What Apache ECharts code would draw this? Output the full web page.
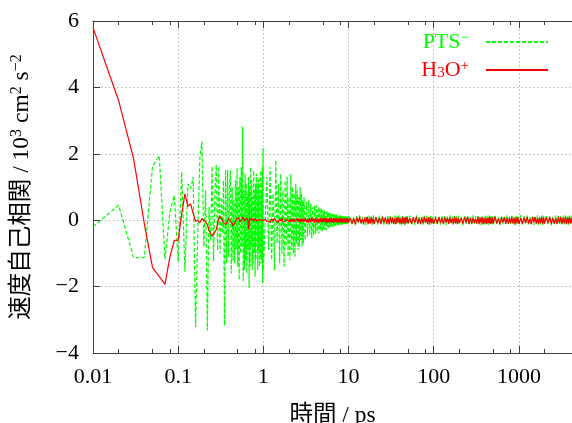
<!DOCTYPE html>
<html><head><meta charset="utf-8">
<script src="https://cdn.jsdelivr.net/npm/echarts@6/dist/echarts.min.js"></script>
<style>html,body{margin:0;padding:0;background:#fff}#c{width:572px;height:423px}</style>
</head><body><div id="c"></div>
<script>
// sampling grid of the time axis (ps): [start, step, count]
const timeSegments = [
  [0.01, 0.01, 100],
  [1.05, 0.05, 40],
  [3.1, 0.1, 70],
  [10.5, 0.5, 20],
  [21, 1, 30],
  [52.5, 2.5, 20],
  [105, 5, 20],
  [210, 10, 30],
  [525, 25, 20],
  [1050, 50, 20],
  [2100, 100, 22]
];
const majorTicks = [0.01, 0.1, 1, 10, 100, 1000];
const minorTicks = [0.02,0.05,0.08,0.2,0.5,0.8,2,5,8,20,50,80,200,500,800,2000];
const yTicks = [-4, -2, 0, 2, 4, 6];

// PTS- velocity autocorrelation (10^3 cm^2 s^-2)
const ptsEarly = [ // 0.01 .. 1.00 ps
 -0.2,0.45,-1.13,-1.13,1.62,1.94,-1.18,0.25,0.75,-1.25,
 1.45,-1.55,1.1,0.95,1.3,-3.22,-0.3,1.9,2.37,-0.8,
 0.9,-3.32,0.4,-0.6,1.62,-1.23,0.8,1.67,-0.9,1.62,
 -1.0,0.7,-0.4,1.2,-3.18,1.52,-1.3,1.52,-1.1,0.9,
 1.5,-1.6,1.0,-1.23,0.6,-1.3,1.2,-0.9,1.57,-1.4,
 1.0,-1.8,1.3,-1.0,1.6,-0.8,2.82,-1.83,0.9,-1.5,
 1.4,-1.2,1.1,-1.6,0.8,-0.9,1.3,-2.05,1.0,-1.4,
 1.6,-0.8,1.2,-1.5,0.7,-1.3,1.5,-1.0,0.9,-1.7,
 1.1,-1.2,1.4,-0.7,1.0,-1.5,1.2,-0.9,1.3,-1.4,
 0.8,-1.1,1.5,-1.3,0.9,-1.2,1.6,-1.9,2.17,-1.5
];
const ptsMid = [ // 1.05 .. 10.0 ps
 -1.5,1.3,-0.9,1.6,-1.2,0.8,-1.5,1.8,-0.7,1.1,
 -1.3,1.4,-1.0,0.9,-1.4,1.2,-0.8,1.3,-1.1,0.7,
 -1.2,1.4,-0.9,1.0,-1.0,0.8,-1.1,1.1,-0.7,0.9,
 -0.9,0.7,-0.8,1.0,-0.6,0.8,-0.8,0.6,-0.7,0.7,
 -0.6,0.55,-0.5,0.6,-0.45,0.5,-0.55,0.4,-0.45,0.45,
 -0.4,0.45,-0.35,0.4,-0.4,0.35,-0.3,0.38,-0.35,0.3,
 -0.3,0.3,-0.28,0.25,-0.3,0.27,-0.22,0.25,-0.25,0.22,
 -0.2,0.22,-0.2,0.18,-0.2,0.2,-0.17,0.18,-0.18,0.16,
 -0.16,0.17,-0.15,0.15,-0.16,0.14,-0.14,0.15,-0.13,0.14,
 -0.13,0.13,-0.14,0.12,-0.12,0.13,-0.12,0.12,-0.13,0.11,
 -0.12,0.12,-0.11,0.12,-0.12,0.11,-0.12,0.12,-0.11,0.12
];
const ptsLate = [ // 10.5 .. 4200 ps
 0.13,-0.12,0.1,-0.15,0.12,-0.1,0.15,-0.13,0.09,-0.14,
 0.12,-0.15,0.13,-0.09,0.14,-0.12,0.1,-0.14,0.15,-0.11,
 0.11,-0.13,0.14,-0.1,0.12,-0.15,0.09,-0.12,0.13,-0.14,
 0.15,-0.11,0.1,-0.13,0.14,-0.12,0.12,-0.1,0.15,-0.13,
 0.09,-0.14,0.13,-0.12,0.11,-0.15,0.14,-0.1,0.12,-0.13,
 0.14,-0.12,0.1,-0.14,0.15,-0.11,0.12,-0.13,0.1,-0.15,
 0.13,-0.1,0.14,-0.12,0.11,-0.14,0.15,-0.12,0.1,-0.13,
 0.12,-0.14,0.09,-0.13,0.14,-0.11,0.13,-0.15,0.12,-0.1,
 0.15,-0.12,0.11,-0.14,0.13,-0.1,0.12,-0.13,0.14,-0.12,
 0.1,-0.15,0.13,-0.11,0.14,-0.12,0.09,-0.14,0.15,-0.13,
 0.12,-0.1,0.14,-0.13,0.11,-0.15,0.13,-0.12,0.1,-0.14,
 0.14,-0.11,0.12,-0.14,0.15,-0.1,0.13,-0.12,0.11,-0.15,
 0.13,-0.12,0.1,-0.14,0.14,-0.13,0.12,-0.11,0.15,-0.12,
 0.11,-0.14,0.13,-0.1,0.12,-0.15,0.14,-0.12,0.1,-0.13,
 0.15,-0.13,0.12,-0.11,0.14,-0.14,0.1,-0.12,0.13,-0.15,
 0.12,-0.1,0.15,-0.13,0.11,-0.12,0.14,-0.14,0.13,-0.11,
 0.14,-0.12,0.12,-0.15,0.1,-0.13,0.15,-0.11,0.13,-0.14,
 0.11,-0.13,0.14,-0.12,0.15,-0.1,0.12,-0.14,0.13,-0.12,
 0.14,-0.13
];

// H3O+ velocity autocorrelation (10^3 cm^2 s^-2)
const h3oEarly = [ // 0.01 .. 1.00 ps
 5.8,3.6,1.85,-0.1,-1.43,-1.7,-1.93,-1.1,-0.61,-0.6,
 0.2,0.79,0.42,0.49,0.2,-0.03,-0.01,-0.08,0.05,0.07,
 -0.05,-0.13,-0.3,-0.4,-0.48,-0.45,-0.35,-0.28,-0.1,0.05,
 0.12,0.1,0.0,-0.08,-0.1,-0.13,-0.1,-0.02,0.05,0.02,
 -0.03,-0.05,-0.1,-0.18,-0.23,-0.15,-0.05,0.03,0.07,0.05,
 0.07,0.02,-0.05,-0.08,-0.05,0.02,0.05,0.1,0.05,-0.03,
 -0.08,-0.05,0.02,0.06,0.03,-0.02,-0.28,-0.1,0.07,0.04,
 0.0,-0.05,-0.02,0.03,0.05,0.02,-0.03,-0.06,-0.02,0.03,
 0.05,0.02,-0.02,-0.04,-0.01,0.02,0.04,0.01,-0.03,-0.02,
 0.02,0.04,0.01,-0.02,-0.03,0.0,0.03,0.02,-0.01,-0.02
];
const h3oMid = [ // 1.05 .. 10.0 ps
 0.03,-0.04,0.02,-0.05,0.04,-0.03,0.05,-0.02,0.03,-0.06,
 0.04,-0.03,0.06,-0.04,0.02,-0.05,0.03,-0.02,0.05,-0.04,
 0.03,-0.06,0.04,-0.03,0.05,-0.04,0.02,-0.05,0.04,-0.03,
 0.06,-0.04,0.03,-0.05,0.04,-0.06,0.05,-0.03,0.04,-0.05,
 0.05,-0.06,0.04,-0.07,0.06,-0.05,0.07,-0.04,0.05,-0.07,
 0.06,-0.05,0.04,-0.08,0.05,-0.06,0.07,-0.05,0.04,-0.06,
 0.07,-0.04,0.05,-0.07,0.06,-0.08,0.04,-0.05,0.06,-0.07,
 0.05,-0.06,0.07,-0.05,0.04,-0.08,0.06,-0.05,0.05,-0.07,
 0.06,-0.04,0.05,-0.08,0.07,-0.06,0.04,-0.07,0.05,-0.06,
 0.07,-0.05,0.06,-0.08,0.04,-0.06,0.05,-0.07,0.06,-0.05,
 0.05,-0.08,0.07,-0.06,0.04,-0.07,0.06,-0.05,0.05,-0.08
];
const h3oLate = [ // 10.5 .. 4200 ps
 0.07,-0.1,0.05,-0.12,0.08,-0.06,0.1,-0.09,0.04,-0.11,
 0.08,-0.07,0.09,-0.12,0.06,-0.1,0.1,-0.08,0.05,-0.11,
 0.09,-0.09,0.06,-0.12,0.1,-0.07,0.08,-0.1,0.05,-0.11,
 0.1,-0.08,0.07,-0.11,0.06,-0.12,0.09,-0.07,0.08,-0.1,
 0.05,-0.11,0.1,-0.09,0.07,-0.12,0.08,-0.06,0.09,-0.1,
 0.06,-0.12,0.09,-0.08,0.1,-0.1,0.05,-0.11,0.08,-0.09,
 0.1,-0.07,0.06,-0.12,0.09,-0.1,0.07,-0.08,0.05,-0.11,
 0.08,-0.1,0.1,-0.09,0.06,-0.12,0.09,-0.07,0.07,-0.11,
 0.09,-0.08,0.05,-0.11,0.1,-0.1,0.08,-0.12,0.06,-0.09,
 0.07,-0.11,0.09,-0.07,0.1,-0.12,0.06,-0.1,0.08,-0.08,
 0.05,-0.1,0.1,-0.11,0.07,-0.09,0.09,-0.12,0.06,-0.1,
 0.08,-0.12,0.06,-0.08,0.1,-0.11,0.07,-0.1,0.09,-0.09,
 0.1,-0.1,0.05,-0.12,0.08,-0.07,0.09,-0.11,0.06,-0.1,
 0.07,-0.09,0.1,-0.1,0.06,-0.12,0.08,-0.08,0.09,-0.11,
 0.06,-0.11,0.08,-0.09,0.1,-0.1,0.05,-0.12,0.09,-0.07,
 0.09,-0.1,0.07,-0.12,0.06,-0.08,0.1,-0.11,0.08,-0.1,
 0.08,-0.09,0.1,-0.11,0.07,-0.1,0.06,-0.12,0.09,-0.08,
 0.1,-0.11,0.06,-0.09,0.08,-0.12,0.07,-0.1,0.09,-0.1,
 0.07,-0.1
];

const times = [];
timeSegments.forEach(([s, d, n]) => {
  for (let i = 0; i < n; i++) times.push(+(s + d * i).toPrecision(8));
});
const ptsVals = ptsEarly.concat(ptsMid, ptsLate);
const h3oVals = h3oEarly.concat(h3oMid, h3oLate);
const ptsData = times.map((t, i) => [t, ptsVals[i]]);
const h3oData = times.map((t, i) => [t, h3oVals[i]]);

const FONT = '"Liberation Serif","Noto Sans CJK JP",serif';
const AXIS_COLOR = '#404040';
const GRID_LINE = {show: true, lineStyle: {color: '#b4b4b4', width: 1, type: [1.5, 2.5]}};
const fmtNum = v => String(parseFloat(Number(v).toPrecision(6))).replace('-', '\u2212');

function xAxisDef(position, ticks, len, showLine, opts) {
  return Object.assign({
    type: 'log', logBase: 10, min: 0.01, max: 4200, position,
    gridIndex: 0,
    axisLine: {show: showLine, onZero: false, lineStyle: {color: AXIS_COLOR, width: 1}},
    axisTick: {show: true, inside: true, length: len, customValues: ticks,
               lineStyle: {color: AXIS_COLOR, width: 1}},
    axisLabel: {show: false},
    splitLine: {show: false},
    minorTick: {show: false}, minorSplitLine: {show: false}
  }, opts || {});
}

const option = {
  animation: false,
  backgroundColor: '#fff',
  grid: {left: 93, right: 0, top: 21, bottom: 70, containLabel: false, outerBoundsMode: 'none'},
  legend: {
    orient: 'vertical', right: 18, top: 26, align: 'right',
    itemWidth: 62, itemHeight: 14, itemGap: 6, padding: 5,
    selectedMode: false,
    itemStyle: {opacity: 0},
    data: [{name: 'PTS'}, {name: 'H3O'}],
    formatter: n => n === 'PTS' ? '{gt|PTS}{gs|\u2212}{sp|}' : '{rt|H}{rb|3}{rt|O}{rs|+}{sp|}',
    textStyle: {
      fontFamily: FONT, fontSize: 22,
      rich: {
        gt: {color: '#00ff00', fontFamily: FONT, fontSize: 22, lineHeight: 22},
        gs: {color: '#00ff00', fontFamily: FONT, fontSize: 15, verticalAlign: 'top', lineHeight: 22},
        rt: {color: '#ff0000', fontFamily: FONT, fontSize: 22, lineHeight: 22},
        rb: {color: '#ff0000', fontFamily: FONT, fontSize: 15, verticalAlign: 'bottom', lineHeight: 22},
        rs: {color: '#ff0000', fontFamily: FONT, fontSize: 15, verticalAlign: 'top', lineHeight: 22},
        sp: {width: 12, lineHeight: 22}
      }
    }
  },
  xAxis: [
    xAxisDef('bottom', majorTicks, 7, true, {
      axisLabel: {show: true, customValues: majorTicks, formatter: fmtNum, margin: 13,
                  fontFamily: FONT, fontSize: 22, color: '#000'},
      splitLine: GRID_LINE,
      name: '時間 / ps', nameLocation: 'middle', nameGap: 51,
      nameTextStyle: {fontFamily: FONT, fontSize: 23.5, color: '#000'}
    }),
    xAxisDef('bottom', minorTicks, 4, false),
    xAxisDef('top', majorTicks, 7, true),
    xAxisDef('top', minorTicks, 4, false)
  ],
  yAxis: [{
    type: 'value', min: -4, max: 6, interval: 2, position: 'left',
    axisLine: {show: true, onZero: false, lineStyle: {color: AXIS_COLOR, width: 1}},
    axisTick: {show: true, inside: true, length: 7, customValues: yTicks,
               lineStyle: {color: AXIS_COLOR, width: 1}},
    axisLabel: {formatter: fmtNum, margin: 14, fontFamily: FONT, fontSize: 22, color: '#000'},
    splitLine: GRID_LINE,
    name: '{t|速度自己相関 / 10}{s|3}{t| cm}{s|2}{t| s}{s|\u22122}',
    nameLocation: 'middle', nameGap: 58,
    nameTextStyle: {
      color: '#000', fontFamily: FONT, fontSize: 23.5,
      rich: {
        t: {fontFamily: FONT, fontSize: 23.5, color: '#000', lineHeight: 26},
        s: {fontFamily: FONT, fontSize: 16, color: '#000', verticalAlign: 'top', lineHeight: 26}
      }
    }
  }],
  series: [
    {
      name: 'PTS', type: 'line', xAxisIndex: 0, yAxisIndex: 0,
      data: ptsData, symbol: 'none', showSymbol: false,
      lineStyle: {color: '#00ff00', width: 1.2, type: [4, 2]},
      itemStyle: {color: '#00ff00'}, z: 2
    },
    {
      name: 'H3O', type: 'line', xAxisIndex: 0, yAxisIndex: 0,
      data: h3oData, symbol: 'none', showSymbol: false,
      lineStyle: {color: '#ff0000', width: 1.2, type: 'solid'},
      itemStyle: {color: '#ff0000'}, z: 3
    }
  ]
};
const chart = echarts.init(document.getElementById('c'), null, {renderer: 'canvas'});
chart.setOption(option);
</script>
</body></html>
